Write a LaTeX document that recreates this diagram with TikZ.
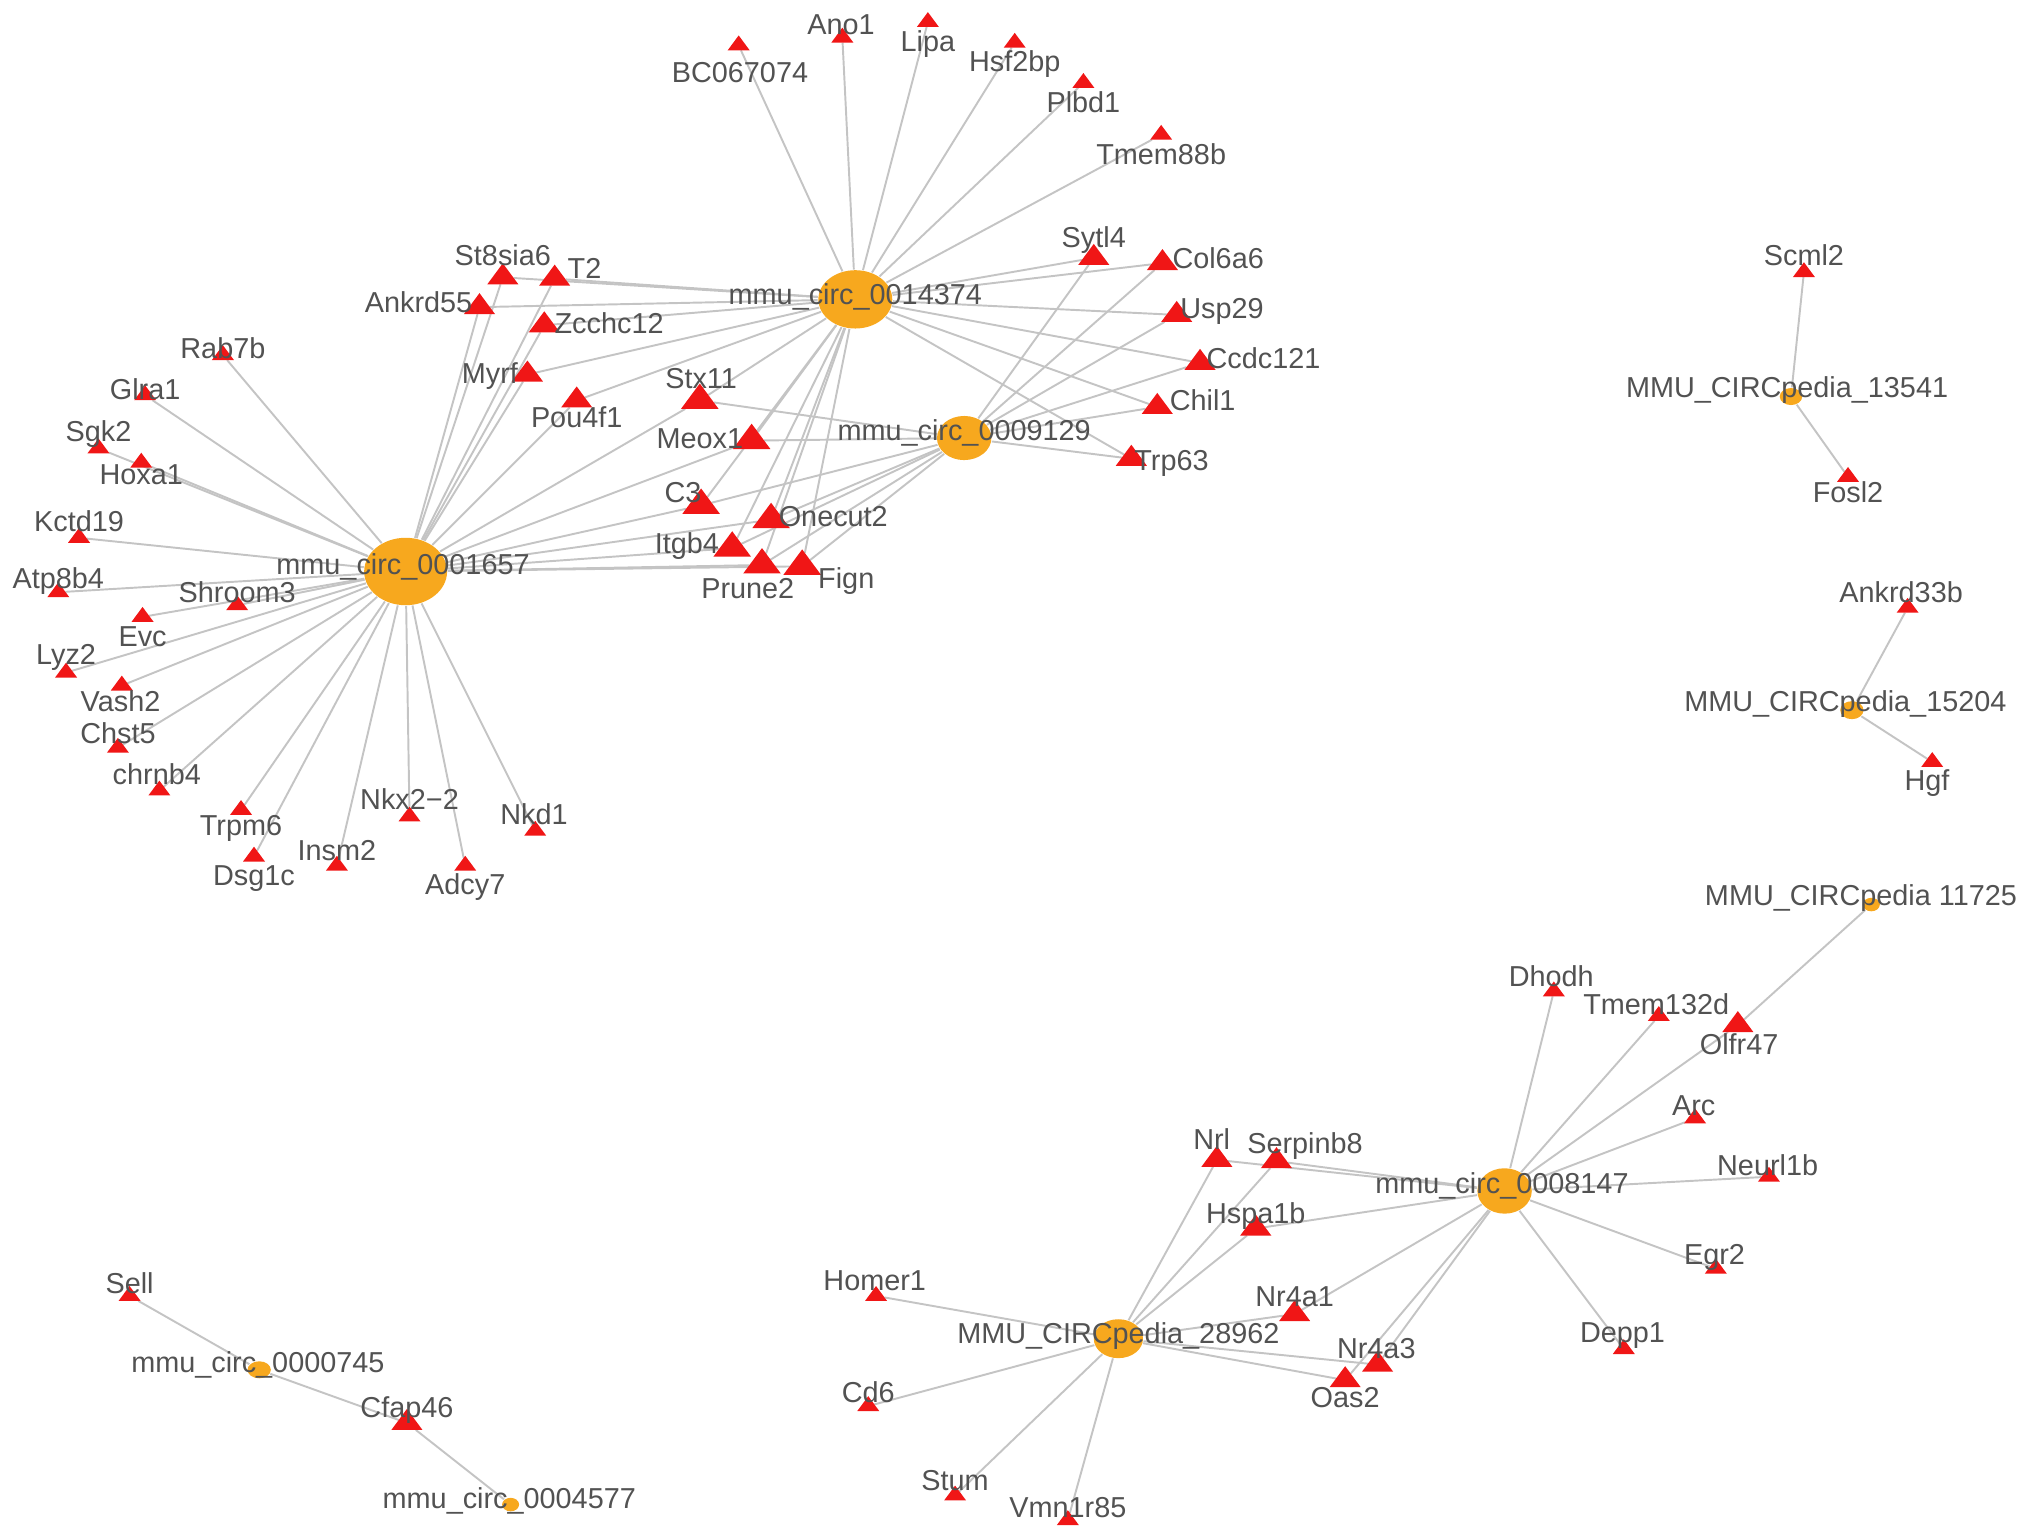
\documentclass[tikz,border=0pt]{standalone}
\usepackage{fontspec}
\setmainfont{Liberation Sans}
\usetikzlibrary{shapes.geometric}
\definecolor{corange}{RGB}{247,168,30}
\definecolor{gred}{RGB}{240,22,22}
\definecolor{egray}{RGB}{196,196,196}
\definecolor{tgray}{RGB}{82,82,82}
\pgfdeclarelayer{bg}
\pgfsetlayers{bg,main}

\begin{document}
\begin{tikzpicture}[x=0.012959cm,y=-0.012959cm,
    edge/.style={egray,line width=0.55pt},
    hub/.style={ellipse,fill=corange,inner sep=0pt},
    gene/.style={regular polygon,regular polygon sides=3,fill=gred,inner sep=0pt,outer sep=0pt,yscale=0.78},
    gs/.style={gene,minimum size=0.254cm},
    gm/.style={gene,minimum size=0.359cm},
    gl/.style={gene,minimum size=0.434cm},
    lbl/.style={text=tgray,inner sep=0pt,text height=5.9pt,text depth=0pt,font=\fontsize{8.2}{10}\selectfont}]
  \useasboundingbox (0,0) rectangle (1568,1188);
  % circRNA hubs
  \foreach \n/\x/\y/\w/\h in {c1657/313/441/0.829/0.674, c4374/660/231/0.739/0.583,
      c9129/744/338/0.544/0.441, c8147/1161/919/0.544/0.454, c28962/863/1033/0.492/0.389,
      c13541/1382/306/0.225/0.170, c15204/1429/548/0.233/0.180, c11725/1444/698/0.170/0.135,
      c0745/200/1057/0.233/0.170, c4577/394/1161/0.170/0.135}
    \node[hub,minimum width=\w cm,minimum height=\h cm] (\n) at (\x,\y) {};
  % target genes
  \foreach \n/\x/\y in {rab7b/172/274, glra1/112/305, sgk2/76/346, hoxa1/109/357,
      kctd19/61/415, atp8b4/45/457, shroom3/183/467, evc/110/476, lyz2/51/519,
      vash2/94/529, chst5/91/577, chrnb4/123/610, trpm6/186/625, dsg1c/196/661,
      insm2/260/668, nkx22/316/630, adcy7/359/668, nkd1/413/641, bc067074/570/35,
      ano1/650/29, lipa/716/17, hsf2bp/783/33, plbd1/836/64, tmem88b/896/104,
      scml2/1392/210, fosl2/1426/368, ankrd33b/1472/469, hgf/1491/588,
      dhodh/1199/765, tmem132d/1280/784, arc/1308/863, neurl1b/1365/908,
      egr2/1324/979, depp1/1253/1041, homer1/676/1000, cd6/670/1085,
      stum/737/1154, vmn1r85/824/1173, sell/100/1000}
    \node[gs] (\n) at (\x,\y) {};
  \foreach \n/\x/\y in {st8sia6/388/214, t2/428/215, ankrd55/370/237, zcchc12/420/251,
      myrf/407/289, pou4f1/445/309, sytl4/844/199, col6a6/897/203, usp29/908/243,
      ccdc121/926/280, chil1/893/314, trp63/873/354, olfr47/1341/791, nrl/939/895,
      serpinb8/985/896, hspa1b/969/948, nr4a1/999/1014, nr4a3/1063/1053,
      oas2/1038/1065, cfap46/314/1098}
    \node[gm] (\n) at (\x,\y) {};
  \foreach \n/\x/\y in {stx11/540/309, meox1/580/340, c3/541/390, itgb4/565/423,
      onecut2/595/401, prune2/588/436, fign/619/437}
    \node[gl] (\n) at (\x,\y) {};
  % interactions
  \begin{pgfonlayer}{bg}
    \foreach \g in {rab7b,glra1,sgk2,hoxa1,kctd19,atp8b4,shroom3,evc,lyz2,vash2,chst5,
        chrnb4,trpm6,dsg1c,insm2,nkx22,adcy7,nkd1,st8sia6,t2,ankrd55,zcchc12,myrf,
        pou4f1,stx11,meox1,c3,itgb4,onecut2,prune2,fign}
      \draw[edge] (c1657) -- (\g);
    \foreach \g in {bc067074,ano1,lipa,hsf2bp,plbd1,tmem88b,st8sia6,t2,ankrd55,zcchc12,
        myrf,pou4f1,sytl4,col6a6,usp29,ccdc121,chil1,trp63,stx11,meox1,c3,itgb4,
        onecut2,prune2,fign}
      \draw[edge] (c4374) -- (\g);
    \foreach \g in {sytl4,col6a6,usp29,ccdc121,chil1,trp63,stx11,meox1,c3,itgb4,
        onecut2,prune2,fign}
      \draw[edge] (c9129) -- (\g);
    \foreach \g in {dhodh,tmem132d,olfr47,arc,neurl1b,egr2,depp1,nrl,serpinb8,hspa1b,
        nr4a1,nr4a3,oas2}
      \draw[edge] (c8147) -- (\g);
    \foreach \g in {homer1,cd6,stum,vmn1r85,nrl,serpinb8,hspa1b,nr4a1,nr4a3,oas2}
      \draw[edge] (c28962) -- (\g);
    \draw[edge] (c11725) -- (olfr47);
    \draw[edge] (c13541) -- (scml2);
    \draw[edge] (c13541) -- (fosl2);
    \draw[edge] (c15204) -- (ankrd33b);
    \draw[edge] (c15204) -- (hgf);
    \draw[edge] (c0745) -- (sell);
    \draw[edge] (c0745) -- (cfap46);
    \draw[edge] (c4577) -- (cfap46);
  \end{pgfonlayer}
  % labels
  \foreach \n/\x/\y/\t in {c1657/311/435/mmu\_circ\_0001657, c4374/660/227/mmu\_circ\_0014374,
      c9129/744/332/mmu\_circ\_0009129, c13541/1379/299/MMU\_CIRCpedia\_13541,
      c15204/1424/541/MMU\_CIRCpedia\_15204, c11725/1436/691/MMU\_CIRCpedia 11725,
      c8147/1159/913/mmu\_circ\_0008147, c28962/863/1029/MMU\_CIRCpedia\_28962,
      c0745/199/1051/mmu\_circ\_0000745, c4577/393/1156/mmu\_circ\_0004577}
    \node[lbl] (l\n) at (\x,\y) {\t};
  \foreach \n/\x/\y/\t in {rab7b/172/269/Rab7b, glra1/112/300/Glra1, sgk2/76/333/Sgk2,
      hoxa1/109/366/Hoxa1, kctd19/61/402/Kctd19, atp8b4/45/446/Atp8b4,
      shroom3/183/457/Shroom3, evc/110/491/Evc, lyz2/51/505/Lyz2, vash2/93/541/Vash2,
      chst5/91/566/Chst5, chrnb4/121/597/chrnb4, trpm6/186/637/Trpm6,
      dsg1c/196/675/Dsg1c, insm2/260/656/Insm2, nkx22/316/617/Nkx2−2,
      adcy7/359/682/Adcy7, nkd1/412/628/Nkd1, bc067074/571/56/BC067074,
      ano1/649/19/Ano1, lipa/716/32/Lipa, hsf2bp/783/47/Hsf2bp, plbd1/836/79/Plbd1,
      tmem88b/896/119/Tmem88b, st8sia6/388/197/St8sia6, t2/451/207/T2,
      ankrd55/323/233/Ankrd55, zcchc12/470/249/Zcchc12, myrf/378/288/Myrf,
      pou4f1/445/322/Pou4f1, sytl4/844/183/Sytl4, col6a6/940/199/Col6a6,
      usp29/943/238/Usp29, ccdc121/975/276/Ccdc121, chil1/928/309/Chil1,
      trp63/904/355/Trp63, stx11/541/292/Stx11, meox1/540/338/Meox1, c3/527/380/C3,
      itgb4/530/419/Itgb4, onecut2/643/398/Onecut2, prune2/577/454/Prune2,
      fign/653/446/Fign, scml2/1392/197/Scml2, fosl2/1426/380/Fosl2,
      ankrd33b/1467/457/Ankrd33b, hgf/1487/602/Hgf, dhodh/1197/753/Dhodh,
      tmem132d/1278/775/Tmem132d, olfr47/1342/806/Olfr47, arc/1307/853/Arc,
      neurl1b/1364/899/Neurl1b, egr2/1323/968/Egr2, depp1/1252/1028/Depp1,
      nrl/935/879/Nrl, serpinb8/1007/882/Serpinb8, hspa1b/969/936/Hspa1b,
      nr4a1/999/1000/Nr4a1, nr4a3/1062/1040/Nr4a3, oas2/1038/1078/Oas2,
      homer1/675/988/Homer1, cd6/670/1074/Cd6, stum/737/1142/Stum,
      vmn1r85/824/1163/Vmn1r85, sell/100/990/Sell, cfap46/314/1086/Cfap46}
    \node[lbl] (l\n) at (\x,\y) {\t};
\end{tikzpicture}
\end{document}
